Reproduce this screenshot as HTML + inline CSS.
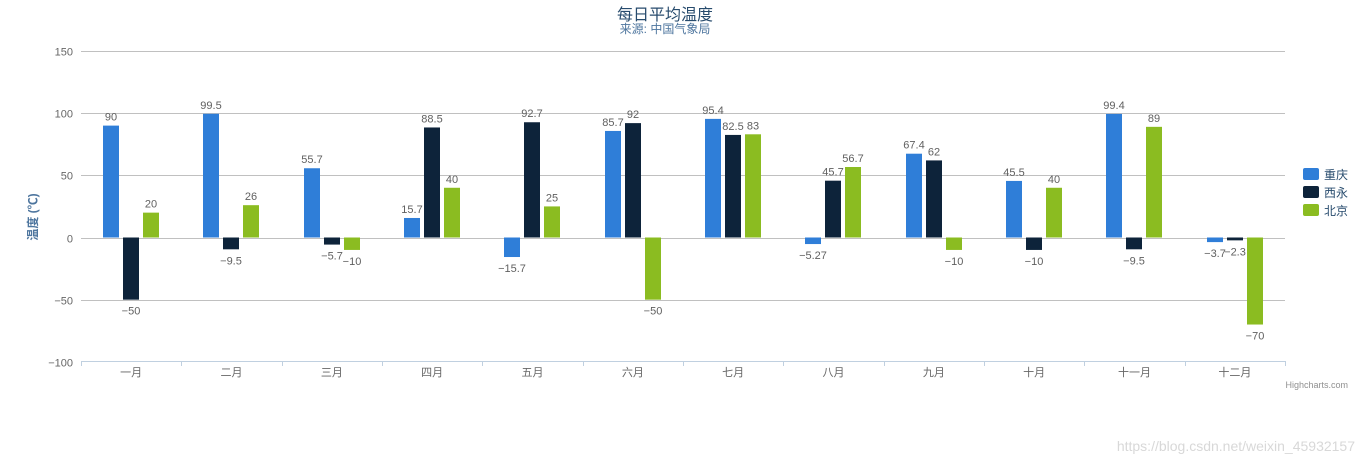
<!DOCTYPE html>
<html><head><meta charset="utf-8"><style>
body{margin:0;background:#fff;}
svg{display:block;font-family:"Liberation Sans","Noto Sans CJK SC",sans-serif;}
</style></head><body>
<svg id="c" width="1365" height="463" xmlns="http://www.w3.org/2000/svg"></svg>
<script>
const s=document.getElementById('c');let h='';
const Y=v=>237.5-v*1.2433;
h+='<text x="665" y="20" text-anchor="middle" font-size="16" fill="#274b6d">每日平均温度</text>';
h+='<text x="665" y="33" text-anchor="middle" font-size="12" fill="#4d759e">来源: 中国气象局</text>';
[150,100,50,0,-50,-100].forEach(v=>{const y=Math.round(Y(v))+0.5;
 if(v>-100)h+=`<line x1="81" x2="1285" y1="${y}" y2="${y}" stroke="#c0c0c0"/>`;
 h+=`<text x="73" y="${y+4}" text-anchor="end" font-size="11" fill="#666">${v<0?'−'+(-v):v}</text>`;});
h+='<line x1="81" x2="1285" y1="361.5" y2="361.5" stroke="#C0D0E0"/>';
h+='<text transform="translate(37,217) rotate(-90)" text-anchor="middle" font-size="12" font-weight="bold" fill="#4d759e">温度 (℃)</text>';
const cats=['一月','二月','三月','四月','五月','六月','七月','八月','九月','十月','十一月','十二月'];
const cw=1204/12;
const data=[[90,99.5,55.7,15.7,-15.7,85.7,95.4,-5.27,67.4,45.5,99.4,-3.7],[-50,-9.5,-5.7,88.5,92.7,92,82.5,45.7,62,-10,-9.5,-2.3],[20,26,-10,40,25,-50,83,56.7,-10,40,89,-70]];
const col=['#2f7ed8','#0d233a','#8bbc21'];
for(let i=0;i<=12;i++){const x=Math.round(81+cw*i)+0.5;h+=`<line x1="${x}" x2="${x}" y1="361" y2="366" stroke="#C0D0E0"/>`;}
cats.forEach((c,i)=>{h+=`<text x="${81+cw*i+cw/2}" y="376" text-anchor="middle" font-size="11" fill="#666">${c}</text>`;});
data.forEach((d,k)=>d.forEach((v,i)=>{const x=Math.round(81+cw*i+22+20*k);const y0=Y(0),y1=Y(v);
 const top=Math.min(y0,y1),ht=Math.max(1,Math.abs(y1-y0));
 h+=`<rect x="${x}" y="${top}" width="16" height="${ht}" fill="${col[k]}"/>`;
 const ly=v>=0?y1-5:y1+15;const t=v<0?'−'+(-v):v;
 h+=`<text x="${x+8}" y="${ly}" text-anchor="middle" font-size="11" fill="#606060">${t}</text>`;}));
['重庆','西永','北京'].forEach((n,k)=>{const y=168+k*18;
 h+=`<rect x="1303" y="${y}" width="16" height="12" rx="2" fill="${col[k]}"/>`;
 h+=`<text x="1324" y="${y+11}" font-size="12" fill="#274b6d">${n}</text>`;});
h+='<text x="1348" y="388" text-anchor="end" font-size="9" fill="#909090">Highcharts.com</text>';
h+='<text x="1355" y="451" text-anchor="end" font-size="14" fill="#d8d8d8">https://blog.csdn.net/weixin_45932157</text>';
s.innerHTML=h;
</script>
</body></html>
